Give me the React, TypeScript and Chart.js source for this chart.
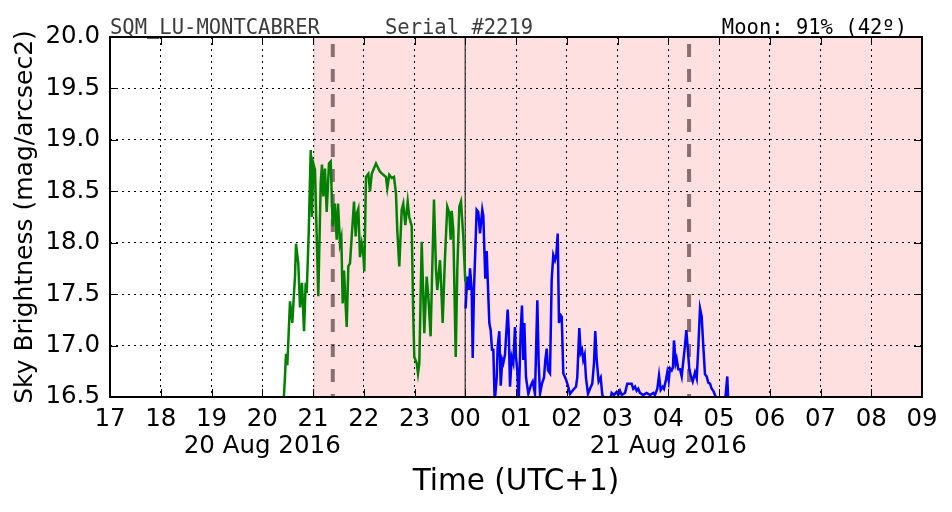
import React, { useEffect, useRef } from "react";
import { Chart, registerables } from "chart.js";

Chart.register(...registerables);

// ---- data (hours since 20 Aug 00:00, local UTC+1) ----
const greenTimes = [
  20.415, 20.448, 20.468, 20.494, 20.547, 20.592, 20.645, 20.665, 20.71, 20.744,
  20.783, 20.823, 20.856, 20.876, 20.915, 20.955, 20.98, 21.006, 21.039, 21.104,
  21.152, 21.177, 21.203, 21.236, 21.27, 21.315, 21.349, 21.388, 21.428, 21.467,
  21.493, 21.532, 21.558, 21.585, 21.611, 21.664, 21.696, 21.729, 21.763, 21.808,
  21.841, 21.861, 21.893, 21.926, 21.96, 21.991, 22.011, 22.044, 22.09, 22.123,
  22.157, 22.241, 22.32, 22.385, 22.438, 22.464, 22.503, 22.551, 22.596, 22.635,
  22.661, 22.7, 22.748, 22.779, 22.819, 22.866, 22.897, 22.945, 22.976, 22.996,
  23.043, 23.069, 23.095, 23.142, 23.173, 23.193, 23.24, 23.272, 23.317, 23.349,
  23.384, 23.424, 23.449, 23.502, 23.528, 23.555, 23.601, 23.646, 23.686, 23.713,
  23.733, 23.765, 23.812, 23.843, 23.883, 23.916, 23.961, 24.001,
];
const greenValues = [
  16.4, 16.7, 16.92, 16.81, 17.43, 17.22, 17.67, 17.99, 17.8, 17.37,
  17.61, 17.14, 17.61, 17.51, 18.09, 18.9, 18.25, 18.77, 18.71, 17.48,
  18.58, 18.76, 18.45, 18.72, 18.3, 18.77, 18.79, 18.16, 18.38, 18.03,
  18.38, 17.99, 18.05, 17.41, 17.73, 17.18, 17.77, 17.8, 18.06, 18.4,
  18.06, 18.28, 18.33, 17.86, 17.99, 17.89, 17.72, 18.64, 18.67, 18.5,
  18.67, 18.77, 18.69, 18.66, 18.64, 18.53, 18.66, 18.63, 18.64, 18.48,
  18.12, 17.77, 18.32, 18.38, 18.17, 18.4, 18.25, 18.16, 17.28, 16.89,
  16.83, 16.73, 16.83, 18.01, 17.48, 17.12, 17.67, 17.48, 17.09, 17.73,
  18.42, 17.73, 17.54, 17.83, 17.57, 17.22, 17.86, 18.35, 18.29, 18.03,
  18.31, 18.12, 16.89, 17.73, 18.35, 18.4, 18.06, 17.62,
];

const blueTimes = [
  24.007, 24.04, 24.074, 24.094, 24.127, 24.147, 24.172, 24.225, 24.257, 24.291,
  24.336, 24.356, 24.395, 24.423, 24.442, 24.474, 24.501, 24.527, 24.553, 24.58,
  24.62, 24.639, 24.671, 24.699, 24.73, 24.75, 24.783, 24.836, 24.856, 24.882,
  24.915, 24.947, 24.98, 25.0, 25.025, 25.053, 25.093, 25.118, 25.144, 25.164,
  25.197, 25.243, 25.29, 25.329, 25.374, 25.42, 25.447, 25.473, 25.512, 25.552,
  25.578, 25.605, 25.631, 25.67, 25.703, 25.735, 25.768, 25.794, 25.822, 25.847,
  25.873, 25.901, 25.932, 25.985, 26.03, 26.064, 26.129, 26.182, 26.207, 26.247,
  26.275, 26.3, 26.325, 26.353, 26.378, 26.418, 26.458, 26.503, 26.537, 26.562,
  26.59, 26.629, 26.669, 26.7, 26.787, 26.852, 26.885, 26.931, 26.984, 27.016,
  27.049, 27.083, 27.148, 27.193, 27.279, 27.31, 27.345, 27.378, 27.41, 27.443,
  27.507, 27.575, 27.64, 27.706, 27.739, 27.785, 27.818, 27.851, 27.89, 27.916,
  27.956, 27.981, 28.009, 28.034, 28.068, 28.093, 28.113, 28.146, 28.166, 28.198,
  28.232, 28.265, 28.297, 28.33, 28.356, 28.383, 28.415, 28.448, 28.482, 28.527,
  28.561, 28.592, 28.626, 28.659, 28.69, 28.724, 28.757, 28.789, 28.823, 28.856,
  28.888, 28.921, 28.955, 29.118, 29.163, 29.183,
];
const blueValues = [
  17.36, 17.67, 17.54, 17.75, 17.54, 16.88, 17.54, 18.32, 18.3, 18.09,
  18.32, 18.26, 17.65, 17.92, 17.65, 17.22, 17.15, 16.96, 16.96, 16.45,
  16.69, 16.99, 17.14, 16.61, 16.86, 16.83, 16.91, 17.35, 17.15, 16.6,
  16.89, 16.83, 17.18, 16.89, 16.76, 16.45, 17.15, 17.39, 16.86, 17.22,
  16.69, 16.53, 16.61, 16.65, 16.53, 17.44, 16.83, 16.53, 16.63, 16.69,
  16.86, 16.97, 16.76, 16.73, 17.64, 17.88, 17.83, 17.88, 18.09, 17.22,
  17.3, 17.28, 16.73, 16.67, 16.6, 16.53, 16.57, 16.6, 16.69, 17.17,
  16.93, 16.96, 16.86, 16.91, 16.69, 16.53, 16.58, 16.63, 16.83, 17.14,
  16.86, 16.65, 16.69, 16.52, 16.45, 16.45, 16.54, 16.52, 16.55, 16.52,
  16.56, 16.52, 16.54, 16.63, 16.63, 16.58, 16.6, 16.56, 16.58, 16.54,
  16.52, 16.54, 16.52, 16.54, 16.52, 16.58, 16.71, 16.57, 16.6, 16.58,
  16.67, 16.74, 16.66, 16.78, 16.76, 16.79, 17.05, 16.83, 16.87, 16.77,
  16.77, 16.7, 16.85, 17.0, 17.15, 16.98, 16.77, 16.7, 16.65, 16.74,
  16.68, 16.98, 17.36, 17.28, 17.0, 16.72, 16.7, 16.64, 16.63, 16.58,
  16.56, 16.52, 16.48, 16.45, 16.7, 16.45,
];

const X_MIN = 17;
const X_MAX = 33;
const Y_MIN = 16.5;
const Y_MAX = 20.0;
const nightStart = 21.02;
const moonLines = [21.39, 28.41];
const midnight = 24;
const dateHours = [20, 28];
const dateLabels = ["20 Aug 2016", "21 Aug 2016"];
const headerLeft = "SQM_LU-MONTCABRER";
const headerMid = "Serial #2219";
const headerRight = "Moon: 91% (42º)";
const xTitle = "Time (UTC+1)";
const yTitle = "Sky Brightness (mag/arcsec2)";

const pad2 = (n: number) => (n < 10 ? "0" + n : "" + n);

const overlayPlugin = {
  id: "sqmOverlay",
  beforeDraw(chart: any) {
    const { ctx, chartArea: a, scales } = chart;
    const x0 = scales.x.getPixelForValue(nightStart);
    ctx.save();
    ctx.fillStyle = "rgb(255,224,224)";
    ctx.fillRect(x0, a.top, a.right - x0, a.bottom - a.top);
    ctx.strokeStyle = "rgba(255,0,0,0.12)";
    ctx.lineWidth = 1;
    ctx.beginPath();
    ctx.moveTo(x0 + 0.5, a.top);
    ctx.lineTo(x0 + 0.5, a.bottom);
    ctx.stroke();
    ctx.restore();
  },
  beforeDatasetsDraw(chart: any) {
    const { ctx, chartArea: a, scales } = chart;
    ctx.save();
    const xm = scales.x.getPixelForValue(midnight);
    ctx.strokeStyle = "rgba(60,60,60,0.85)";
    ctx.lineWidth = 1.5;
    ctx.beginPath();
    ctx.moveTo(xm, a.top);
    ctx.lineTo(xm, a.bottom);
    ctx.stroke();
    ctx.strokeStyle = "rgba(20,0,0,0.5)";
    ctx.lineWidth = 4;
    ctx.setLineDash([13, 12]);
    ctx.lineDashOffset = 10;
    moonLines.forEach((h) => {
      const xp = scales.x.getPixelForValue(h);
      ctx.beginPath();
      ctx.moveTo(xp, a.bottom);
      ctx.lineTo(xp, a.top);
      ctx.stroke();
    });
    ctx.restore();
  },
  afterDatasetsDraw(chart: any) {
    const { ctx, chartArea: a, scales } = chart;
    ctx.save();
    ctx.strokeStyle = "#000";
    ctx.lineWidth = 1;
    ctx.beginPath();
    scales.x.ticks.forEach((t: any) => {
      const xp = Math.round(scales.x.getPixelForValue(t.value)) + 0.5;
      ctx.moveTo(xp, a.bottom);
      ctx.lineTo(xp, a.bottom - 8);
      ctx.moveTo(xp, a.top);
      ctx.lineTo(xp, a.top + 8);
    });
    scales.y.ticks.forEach((t: any) => {
      const yp = Math.round(scales.y.getPixelForValue(t.value)) + 0.5;
      ctx.moveTo(a.left, yp);
      ctx.lineTo(a.left + 8, yp);
      ctx.moveTo(a.right, yp);
      ctx.lineTo(a.right - 8, yp);
    });
    ctx.stroke();
    ctx.lineWidth = 2;
    ctx.strokeRect(a.left, a.top, a.right - a.left, a.bottom - a.top);
    ctx.restore();
  },
  afterDraw(chart: any) {
    const { ctx } = chart;
    ctx.save();
    ctx.font = "20.5px 'DejaVu Sans Mono'";
    ctx.textBaseline = "alphabetic";
    ctx.fillStyle = "#3c3c3c";
    ctx.textAlign = "left";
    ctx.fillText(headerLeft, 110, 34);
    ctx.fillText(headerMid, 385, 34);
    ctx.fillStyle = "#000";
    ctx.textAlign = "right";
    ctx.fillText(headerRight, 907, 34);
    ctx.restore();
  },
};

export default function App() {
  const ref = useRef<HTMLCanvasElement | null>(null);

  useEffect(() => {
    if (!ref.current) return;
    const toXY = (ts: number[], vs: number[]) => ts.map((t, i) => ({ x: t, y: vs[i] }));
    const tickFont = { family: "'DejaVu Sans'", size: 24.5, lineHeight: 1.1 };
    const chart = new Chart(ref.current, {
      type: "line",
      data: {
        datasets: [
          {
            data: toXY(greenTimes, greenValues),
            borderColor: "#008000",
            borderWidth: 2.5,
            pointRadius: 0,
            tension: 0,
            fill: false,
          },
          {
            data: toXY(blueTimes, blueValues),
            borderColor: "#0000ff",
            borderWidth: 2.5,
            pointRadius: 0,
            tension: 0,
            fill: false,
          },
        ],
      },
      options: {
        animation: false,
        responsive: false,
        devicePixelRatio: 1,
        layout: { padding: { top: 37, right: 30, left: 0, bottom: 0 } },
        plugins: { legend: { display: false }, tooltip: { enabled: false } },
        scales: {
          x: {
            type: "linear",
            min: X_MIN,
            max: X_MAX,
            afterFit: (s: any) => {
              s.height = 115;
            },
            afterBuildTicks: (s: any) => {
              const t = [];
              for (let h = X_MIN; h <= X_MAX; h++) t.push({ value: h });
              s.ticks = t;
            },
            ticks: {
              autoSkip: false,
              maxRotation: 0,
              padding: 9,
              color: "#000",
              font: tickFont,
              callback: (v: any) => {
                const h = Number(v);
                const lbl = pad2(((h % 24) + 24) % 24);
                const di = dateHours.indexOf(h);
                return di >= 0 ? [lbl, dateLabels[di]] : lbl;
              },
            },
            grid: {
              color: "#000",
              lineWidth: 1,
              drawTicks: false,
            },
            border: { display: false, dash: [2, 4] },
            title: {
              display: true,
              text: xTitle,
              color: "#000",
              font: { family: "'DejaVu Sans'", size: 29.5, lineHeight: 1.2 },
              padding: { top: 0, bottom: 12.4 },
            },
          },
          y: {
            type: "linear",
            min: Y_MIN,
            max: Y_MAX,
            afterFit: (s: any) => {
              s.width = 110;
            },
            ticks: {
              stepSize: 0.5,
              padding: 10,
              color: "#000",
              font: tickFont,
              callback: (v: any) => Number(v).toFixed(1),
            },
            grid: {
              color: "#000",
              lineWidth: 1,
              drawTicks: false,
            },
            border: { display: false, dash: [2, 4] },
            title: {
              display: true,
              text: yTitle,
              color: "#000",
              font: { family: "'DejaVu Sans'", size: 25, lineHeight: 1.2 },
              padding: { top: 10, bottom: 0 },
            },
          },
        },
      } as any,
      plugins: [overlayPlugin],
    });
    return () => chart.destroy();
  }, []);

  return (
    <div style={{ position: "fixed", left: 0, top: 0, width: 952, height: 512, background: "#fff" }}>
      <canvas ref={ref} width={952} height={512} style={{ width: 952, height: 512, display: "block" }} />
    </div>
  );
}
